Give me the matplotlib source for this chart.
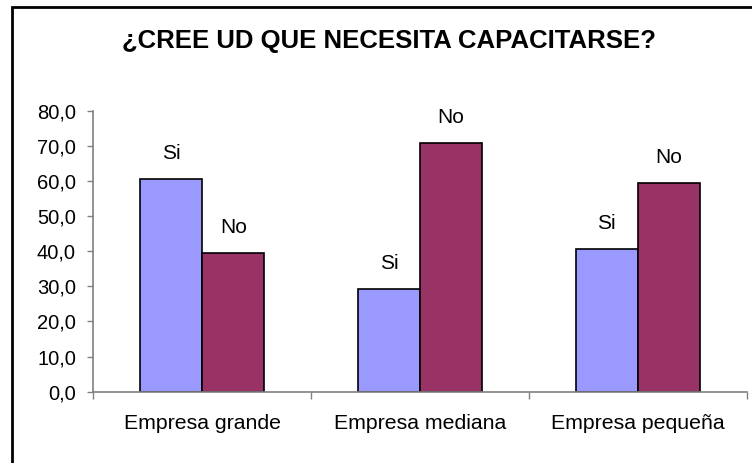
import numpy as np
import matplotlib
matplotlib.use('Agg')
import matplotlib.pyplot as plt
from matplotlib.patches import Rectangle

plt.rcParams['font.family'] = ['Liberation Sans', 'DejaVu Sans']

# datos
categorias = ['Empresa grande', 'Empresa mediana', 'Empresa pequeña']
si = [60.5, 29.2, 40.6]
no = [39.5, 70.8, 59.4]
series = ['Si', 'No']
titulo = '¿CREE UD QUE NECESITA CAPACITARSE?'
yticks = [0, 10, 20, 30, 40, 50, 60, 70, 80]

fig = plt.figure(figsize=(7.52, 4.63), dpi=100)
ax = fig.add_axes([93.3 / 752, (463 - 391.7) / 463, 653.4 / 752, 281 / 463])

x = np.arange(len(categorias))
w = 0.285
b1 = ax.bar(x - w / 2, si, w, color='#9999FF', edgecolor='black', linewidth=1.2)
b2 = ax.bar(x + w / 2, no, w, color='#993366', edgecolor='black', linewidth=1.2)

for bars, lab in zip([b1, b2], series):
    for r in bars:
        ax.annotate(lab, (r.get_x() + r.get_width() / 2, r.get_height()),
                    xytext=(0, 14.5), textcoords='offset points',
                    ha='center', va='baseline', fontsize=15)

ax.set_xlim(-0.5, len(categorias) - 0.5)
ax.set_ylim(0, 80)
ax.set_yticks(yticks)
ax.yaxis.set_major_formatter(plt.FuncFormatter(lambda v, p: ('%.1f' % v).replace('.', ',')))
ax.set_xticks(np.arange(len(categorias) + 1) - 0.5)
ax.set_xticklabels([])
ax.set_xticks(x, minor=True)
ax.set_xticklabels(categorias, minor=True, fontsize=15.3)
ax.tick_params(axis='x', which='minor', length=0, pad=16)
ax.tick_params(axis='x', which='major', length=5, width=1, color='#808080', direction='out')
ax.tick_params(axis='y', length=4.5, width=1, color='#808080', direction='out', pad=8, labelsize=14.5)

for s in ['top', 'right']:
    ax.spines[s].set_visible(False)
for s in ['left', 'bottom']:
    ax.spines[s].set_color('#808080')
    ax.spines[s].set_linewidth(1.2)

fig.text(389 / 752, 1 - 41 / 463, titulo, ha='center', va='center',
         fontsize=18.5, fontweight='bold')

# marco del grafico
fig.patches.append(Rectangle((12 / 752, -0.05), 1.0, 1 - 7 / 463 + 0.05,
                             transform=fig.transFigure, fill=False,
                             edgecolor='black', linewidth=2))

fig.savefig('out.png', dpi=100)
